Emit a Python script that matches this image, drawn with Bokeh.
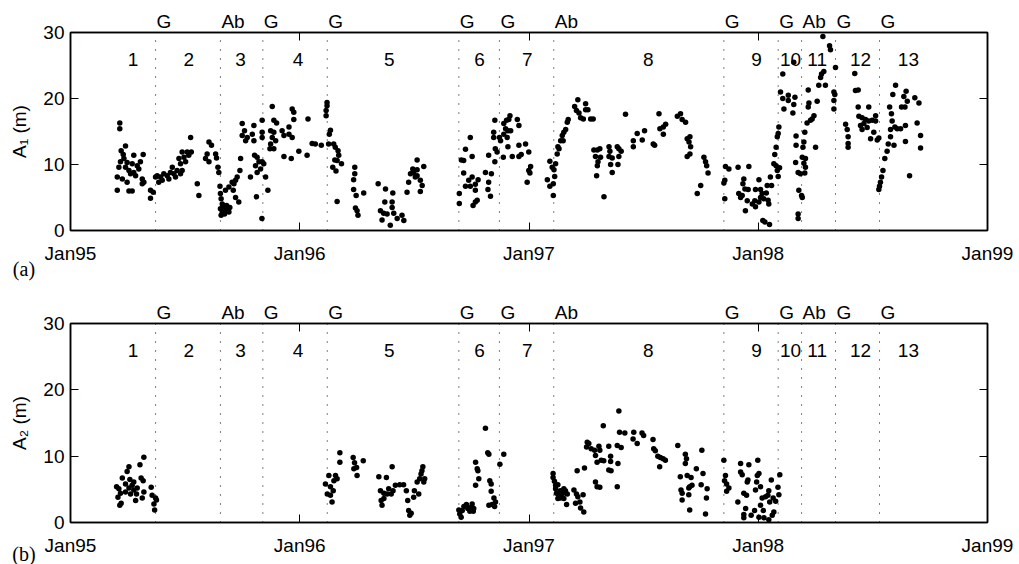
from bokeh.plotting import figure
from bokeh.layouts import column
from bokeh.models import (ColumnDataSource, Range1d, FixedTicker, LinearAxis,
                          LabelSet, Label)
from bokeh.core.properties import value
from bokeh.embed import file_html
from bokeh.resources import INLINE

# ---------------- data ----------------
year_ticks = [1995, 1996, 1997, 1998, 1999]
year_labels = ["Jan95", "Jan96", "Jan97", "Jan98", "Jan99"]
y_ticks = [0, 10, 20, 30]

boundaries = [1995.371, 1995.654, 1995.839, 1996.120, 1996.694, 1996.871,
              1997.108, 1997.850, 1998.087, 1998.189, 1998.337, 1998.529]
boundary_labels = ["G", "Ab", "G", "G", "G", "G", "Ab", "G", "G", "Ab", "G", "G"]

phase_names = ["1", "2", "3", "4", "5", "6", "7", "8", "9", "10", "11", "12", "13"]
phase_centers = [1995.273, 1995.516, 1995.742, 1995.992, 1996.391, 1996.784,
                 1996.992, 1997.520, 1997.992, 1998.141, 1998.257, 1998.446, 1998.655]

# Panel (a): A1 amplitude (m)
a1_time = [
    # phase 1
    1995.215, 1995.215, 1995.240, 1995.221, 1995.230, 1995.233, 1995.218, 1995.276, 1995.317, 1995.247,
    1995.211, 1995.240, 1995.269, 1995.291, 1995.305, 1995.255, 1995.276, 1995.298, 1995.204, 1995.226,
    1995.262, 1995.284, 1995.313, 1995.320, 1995.204, 1995.247, 1995.255, 1995.269, 1995.313,
    # phase 2
    1995.349, 1995.349, 1995.361, 1995.371, 1995.378, 1995.385, 1995.393, 1995.400, 1995.407, 1995.422,
    1995.429, 1995.436, 1995.444, 1995.451, 1995.458, 1995.465, 1995.473, 1995.480, 1995.480, 1995.487,
    1995.487, 1995.495, 1995.502, 1995.509, 1995.516, 1995.527, 1995.524, 1995.553, 1995.560,
    1995.604, 1995.615, 1995.596, 1995.589, 1995.604, 1995.633, 1995.637, 1995.643, 1995.647,
    # phase 3
    1995.652, 1995.654, 1995.657, 1995.662, 1995.654, 1995.662, 1995.669, 1995.676, 1995.684, 1995.691,
    1995.672, 1995.657, 1995.681, 1995.695, 1995.666, 1995.688, 1995.676, 1995.691, 1995.705, 1995.713,
    1995.720, 1995.727, 1995.710, 1995.720, 1995.734, 1995.739, 1995.742, 1995.749, 1995.749, 1995.759,
    1995.771, 1995.764, 1995.800, 1995.793, 1995.800, 1995.785, 1995.803, 1995.814, 1995.807, 1995.822,
    1995.814, 1995.829, 1995.836, 1995.843, 1995.851, 1995.811, 1995.861, 1995.836, 1995.836, 1995.836,
    1995.835,
    # phase 4
    1995.880, 1995.887, 1995.899, 1995.873, 1995.887, 1995.923, 1995.880, 1995.895, 1995.873, 1995.870,
    1995.887, 1995.931, 1995.953, 1995.967, 1995.974, 1995.974, 1995.967, 1995.953, 1995.931, 1995.963,
    1995.996, 1996.036, 1996.032, 1996.054, 1996.068, 1996.094,
    # phase 5
    1996.119, 1996.119, 1996.115, 1996.115, 1996.134, 1996.129, 1996.126, 1996.148, 1996.155, 1996.167,
    1996.170, 1996.153, 1996.163, 1996.182, 1996.144, 1996.158, 1996.163, 1996.240, 1996.240, 1996.235,
    1996.235, 1996.246, 1996.279, 1996.243, 1996.250, 1996.254, 1996.342, 1996.374, 1996.406, 1996.371,
    1996.403, 1996.352, 1996.366, 1996.381, 1996.403, 1996.410, 1996.359, 1996.395, 1996.425, 1996.446,
    1996.454, 1996.468, 1996.475, 1996.483, 1996.497, 1996.512, 1996.504, 1996.526, 1996.534, 1996.526,
    1996.512, 1996.541, 1996.512, 1996.493,
    # phase 6
    1996.696, 1996.696, 1996.705, 1996.715, 1996.723, 1996.744, 1996.752, 1996.715, 1996.737, 1996.752,
    1996.723, 1996.744, 1996.766, 1996.778, 1996.766, 1996.774, 1996.766, 1996.756, 1996.810, 1996.824,
    1996.836, 1996.824, 1996.821, 1996.832, 1996.851, 1996.846, 1996.846, 1996.853, 1996.861, 1996.851,
    # phase 7
    1996.871, 1996.890, 1996.890,
    1996.917, 1996.902, 1996.912, 1996.898, 1996.908, 1996.920, 1996.905, 1996.949, 1996.956, 1996.876,
    1996.908, 1996.956, 1996.985, 1996.999, 1996.888, 1996.927, 1996.956, 1996.966, 1997.007, 1996.999,
    1997.004, 1996.992,
    # phase 8
    1997.080, 1997.091, 1997.106, 1997.106, 1997.091, 1997.101, 1997.109, 1997.112, 1997.116, 1997.123,
    1997.131, 1997.126, 1997.138, 1997.145, 1997.152, 1997.160, 1997.167, 1997.171, 1997.149, 1997.199,
    1997.213, 1997.207, 1997.218, 1997.225, 1997.237, 1997.247, 1997.247, 1997.257, 1997.269, 1997.280,
    1997.283, 1997.298, 1997.309, 1997.290, 1997.312, 1997.301, 1997.298, 1997.295, 1997.327, 1997.349,
    1997.353, 1997.349, 1997.363, 1997.356, 1997.363, 1997.385, 1997.392, 1997.402, 1997.392, 1997.388,
    1997.421, 1997.455, 1997.455, 1997.472, 1997.494, 1997.504, 1997.542, 1997.548, 1997.567, 1997.571,
    1997.586, 1997.596, 1997.586, 1997.647, 1997.661, 1997.668, 1997.683, 1997.690, 1997.702, 1997.698,
    1997.705, 1997.702, 1997.690, 1997.734, 1997.749, 1997.763, 1997.770, 1997.775, 1997.781,
    # phase 9
    1997.857, 1997.872, 1997.912, 1997.959, 1997.854, 1997.850, 1997.854, 1997.937, 1997.933, 1997.942,
    1997.956, 1997.915, 1997.930, 1997.923, 1997.952, 1997.944, 1997.974, 1997.985, 1997.988, 1998.003,
    1998.010, 1998.017, 1998.010, 1998.003, 1998.024, 1998.035, 1998.043, 1998.046, 1998.039, 1998.053,
    1998.058, 1997.988, 1998.020, 1998.029, 1998.049, 1998.068, 1998.078, 1998.072, 1998.078, 1998.083,
    1998.087, 1998.090, 1998.083, 1998.087, 1998.093,
    # phase 10
    1998.107, 1998.097, 1998.107, 1998.112, 1998.131, 1998.131, 1998.160, 1998.155, 1998.151, 1998.165,
    1998.165, 1998.163, 1998.174, 1998.184, 1998.177, 1998.189, 1998.192, 1998.174, 1998.174, 1998.155,
    # phase 11
    1998.195, 1998.199, 1998.203, 1998.192, 1998.199, 1998.206, 1998.206, 1998.203, 1998.213, 1998.221,
    1998.218, 1998.228, 1998.235, 1998.218, 1998.243, 1998.257, 1998.250, 1998.264, 1998.276, 1998.272,
    1998.286, 1998.293, 1998.282, 1998.311, 1998.315, 1998.330, 1998.334, 1998.330, 1998.330, 1998.337,
    # phase 12
    1998.421, 1998.424, 1998.436, 1998.381, 1998.388, 1998.392, 1998.392, 1998.392, 1998.436, 1998.482,
    1998.439, 1998.453, 1998.468, 1998.461, 1998.446, 1998.482, 1998.497, 1998.512, 1998.512, 1998.475,
    1998.490, 1998.504, 1998.519, 1998.526, 1998.453,
    # phase 13
    1998.526, 1998.529, 1998.533, 1998.538, 1998.544, 1998.552, 1998.562, 1998.567, 1998.577, 1998.577,
    1998.584, 1998.581, 1998.573, 1998.587, 1998.599, 1998.606, 1998.596, 1998.621, 1998.625, 1998.635,
    1998.640, 1998.645, 1998.650, 1998.642, 1998.642, 1998.660, 1998.683, 1998.701, 1998.693, 1998.708,
    1998.708, 1998.592,
]
a1_value = [
    # phase 1
    16.3, 15.4, 12.8, 12.1, 11.5, 10.9, 10.4, 11.4, 11.5, 10.3,
    9.6, 9.6, 10.1, 9.8, 10.4, 9.1, 8.8, 9.3, 8.1, 7.8,
    8.6, 8.3, 7.8, 7.3, 6.1, 7.3, 6.0, 6.0, 7.1,
    # phase 2
    4.9, 6.1, 5.8, 8.1, 8.3, 7.3, 8.1, 7.6, 8.6, 8.3,
    7.8, 8.8, 9.6, 8.6, 8.1, 9.1, 10.9, 10.1, 8.6, 9.1,
    11.9, 11.1, 10.4, 11.9, 11.4, 11.9, 14.1, 7.1, 5.3,
    13.4, 12.9, 11.6, 10.9, 10.4, 11.6, 11.0, 9.6, 8.8,
    # phase 3
    6.7, 5.6, 4.8, 4.0, 3.3, 2.8, 3.0, 3.3, 3.0, 2.8,
    2.5, 2.3, 3.8, 3.5, 3.6, 3.2, 6.1, 6.6, 7.3, 7.1,
    7.6, 8.1, 6.1, 5.0, 4.3, 9.1, 10.9, 14.4, 16.2, 15.1,
    14.1, 13.6, 15.9, 14.6, 13.6, 8.1, 11.4, 11.1, 9.8, 10.4,
    8.8, 9.3, 10.4, 10.1, 8.1, 5.1, 6.1, 16.7, 14.9, 14.1,
    1.8,
    # phase 4
    18.8, 16.7, 16.3, 15.1, 14.9, 15.1, 14.1, 13.6, 13.1, 12.4,
    12.4, 14.4, 15.7, 18.4, 17.9, 16.8, 14.1, 14.6, 11.2, 10.9,
    12.0, 16.9, 11.4, 13.2, 13.1, 12.9,
    # phase 5
    19.4, 18.9, 18.2, 17.4, 15.2, 14.6, 13.1, 13.1, 12.6, 12.1,
    11.4, 10.7, 10.6, 10.1, 9.6, 9.0, 4.4, 9.6, 8.6, 7.7,
    6.2, 5.3, 5.7, 3.4, 3.0, 2.3, 7.1, 6.3, 5.7, 4.3,
    4.3, 3.0, 2.6, 2.5, 3.5, 2.6, 1.6, 0.8, 1.8, 2.3,
    1.5, 5.8, 7.3, 8.6, 8.8, 8.3, 8.1, 7.6, 6.8, 5.9,
    9.2, 9.7, 10.7, 9.3,
    # phase 6
    4.1, 5.6, 10.7, 10.6, 12.3, 14.1, 11.2, 8.7, 7.6, 8.1,
    6.7, 6.7, 7.0, 7.7, 6.1, 4.6, 4.3, 3.8, 8.8, 11.4,
    8.6, 7.3, 6.2, 5.2, 16.7, 14.9, 14.1, 12.4, 11.9, 10.4,
    # phase 7
    14.1, 14.6, 16.2,
    17.4, 16.7, 16.8, 15.4, 15.1, 15.1, 14.1, 16.8, 15.9, 13.6,
    12.7, 12.9, 13.1, 11.9, 11.1, 11.2, 11.2, 11.5, 9.7, 9.1,
    8.7, 7.3,
    # phase 8
    7.7, 6.7, 7.1, 5.3, 10.5, 9.6, 9.2, 8.2, 10.1, 11.6,
    12.4, 12.7, 13.6, 14.4, 14.9, 15.3, 16.4, 16.8, 13.6, 18.8,
    19.8, 18.2, 17.8, 17.1, 16.9, 19.2, 18.3, 18.3, 16.9, 16.9,
    12.2, 12.2, 12.4, 11.2, 11.1, 10.4, 9.8, 8.3, 5.1, 12.7,
    12.0, 11.2, 11.0, 10.0, 8.8, 12.7, 12.4, 12.0, 11.2, 10.0,
    17.6, 13.6, 12.7, 14.7, 13.7, 15.1, 13.1, 12.9, 17.7, 15.4,
    15.7, 16.1, 14.6, 17.3, 17.7, 16.8, 16.4, 13.9, 14.2, 13.4,
    12.7, 11.6, 11.2, 5.6, 6.8, 11.1, 10.4, 9.8, 8.7,
    # phase 9
    9.7, 9.3, 9.6, 9.7, 7.6, 7.2, 4.8, 7.8, 7.1, 6.3,
    6.2, 5.6, 5.3, 5.0, 4.5, 3.0, 4.0, 4.5, 6.2, 7.7,
    6.2, 5.6, 5.0, 4.3, 4.8, 5.7, 4.6, 4.0, 6.8, 8.1,
    6.8, 3.6, 1.5, 1.3, 0.9, 10.1, 9.8, 11.5, 12.6, 14.2,
    14.7, 15.7, 9.1, 8.2, 9.5,
    # phase 10
    23.7, 21.0, 20.0, 18.4, 20.5, 19.7, 20.2, 19.1, 17.8, 14.3,
    12.9, 10.3, 8.8, 8.6, 6.1, 5.3, 5.0, 2.5, 1.8, 25.5,
    # phase 11
    12.6, 13.4, 14.9, 11.1, 10.2, 9.6, 10.9, 8.7, 16.3, 19.3,
    18.7, 16.7, 16.9, 21.3, 17.4, 19.6, 12.6, 22.0, 23.7, 23.2,
    24.1, 22.0, 29.4, 28.0, 27.4, 21.0, 20.6, 19.7, 18.4, 24.7,
    # phase 12
    23.8, 21.2, 21.3, 16.1, 15.3, 14.2, 13.2, 12.6, 18.7, 18.7,
    17.3, 17.1, 16.8, 16.2, 15.9, 16.6, 16.7, 17.4, 16.6, 15.6,
    13.9, 14.9, 13.7, 14.0, 15.3,
    # phase 13
    6.2, 6.7, 7.3, 8.1, 9.1, 10.9, 12.0, 13.1, 14.2, 15.3,
    16.6, 17.7, 18.7, 20.6, 22.0, 15.4, 15.7, 15.4, 18.7, 20.3,
    18.7, 21.1, 19.6, 15.9, 13.5, 8.3, 20.1, 19.3, 16.3, 14.4,
    12.5, 12.9,
]

# Panel (b): A2 amplitude (m)
a2_time = [
    # phase 1
    1995.320, 1995.303, 1995.255, 1995.247, 1995.226, 1995.259, 1995.308, 1995.317, 1995.240, 1995.276,
    1995.201, 1995.211, 1995.255, 1995.276, 1995.291, 1995.352, 1995.218, 1995.262, 1995.288, 1995.313,
    1995.356, 1995.371, 1995.207, 1995.221, 1995.215, 1995.284, 1995.364, 1995.367, 1995.240, 1995.269,
    1995.320, 1995.375,
    # phase 5
    1996.175, 1996.175, 1996.127, 1996.156, 1996.149, 1996.112, 1996.134, 1996.146, 1996.120, 1996.134,
    1996.141, 1996.163,
    1996.233, 1996.239, 1996.248, 1996.236, 1996.250, 1996.277, 1996.345, 1996.378, 1996.403, 1996.352,
    1996.367, 1996.388, 1996.407, 1996.417, 1996.436, 1996.453, 1996.355, 1996.359, 1996.367, 1996.465,
    1996.471, 1996.475, 1996.480, 1996.486, 1996.497, 1996.500, 1996.512, 1996.519, 1996.523, 1996.529,
    1996.533, 1996.537, 1996.541, 1996.545, 1996.381, 1996.399,
    # phase 6 / 7
    1996.810, 1996.820, 1996.825, 1996.767, 1996.774, 1996.777, 1996.781, 1996.767, 1996.829, 1996.835,
    1996.835, 1996.890, 1996.873, 1996.847, 1996.854, 1996.839, 1996.825, 1996.850, 1996.694, 1996.698,
    1996.704, 1996.716, 1996.727, 1996.733, 1996.748, 1996.752, 1996.757, 1996.742, 1996.759, 1996.709,
    # phase 8
    1997.105, 1997.105, 1997.111, 1997.126, 1997.116, 1997.120, 1997.130, 1997.126, 1997.137, 1997.145,
    1997.152, 1997.159, 1997.137, 1997.152, 1997.164, 1997.167, 1997.116, 1997.196, 1997.207, 1997.213,
    1997.236, 1997.203, 1997.222, 1997.225, 1997.239, 1997.210, 1997.242, 1997.254, 1997.261, 1997.251,
    1997.271, 1997.286, 1997.290, 1997.297, 1997.305, 1997.309, 1997.315, 1997.326, 1997.324, 1997.348,
    1997.356, 1997.356, 1997.348, 1997.358, 1997.392, 1997.385, 1997.402, 1997.388, 1997.385, 1997.290,
    1997.297, 1997.309, 1997.395, 1997.418, 1997.457, 1997.454, 1997.472,
    1997.493, 1997.500, 1997.541, 1997.544, 1997.551, 1997.562, 1997.573, 1997.585, 1997.595, 1997.570,
    1997.649, 1997.682, 1997.687, 1997.682, 1997.660, 1997.690, 1997.707, 1997.730, 1997.701, 1997.711,
    1997.697, 1997.663, 1997.668, 1997.697, 1997.668, 1997.701, 1997.754, 1997.759, 1997.751, 1997.777,
    1997.774, 1997.770,
    # phase 9
    1997.850, 1997.857, 1997.853, 1997.862, 1997.872, 1997.862, 1997.923, 1997.959, 1997.998, 1997.923,
    1997.930, 1998.003, 1997.996, 1997.955, 1997.952, 1998.057, 1998.094, 1997.993, 1998.010, 1997.988,
    1997.937, 1997.949, 1998.046, 1998.042, 1998.086, 1998.090, 1998.017, 1998.032, 1998.065, 1998.076,
    1998.050, 1997.911, 1998.010, 1997.945, 1997.984, 1998.022, 1997.937, 1997.937, 1997.969, 1998.025,
    1998.061, 1998.068, 1998.046, 1998.003,
]
a2_value = [
    # phase 1
    9.85, 8.7, 8.4, 7.7, 6.7, 6.5, 6.7, 6.3, 5.8, 6.1,
    5.4, 5.1, 5.2, 4.9, 5.2, 5.3, 4.4, 4.3, 4.3, 3.7,
    4.1, 3.7, 3.8, 2.9, 2.6, 3.3, 2.8, 1.9, 4.6, 5.6,
    4.6, 3.4,
    # phase 5
    10.5, 9.1, 7.1, 7.1, 6.3, 5.8, 5.4, 4.8, 4.3, 4.1,
    3.1, 6.6,
    9.8, 9.0, 8.3, 8.1, 7.1, 9.3, 6.9, 6.8, 8.4, 4.8,
    4.4, 5.1, 4.8, 5.6, 5.7, 5.7, 3.3, 2.6, 3.6, 4.8,
    3.3, 1.8, 1.1, 1.4, 3.8, 4.8, 6.1, 4.3, 6.6, 7.3,
    7.8, 8.4, 6.1, 6.6, 4.3, 4.3,
    # phase 6 / 7
    14.2, 10.5, 10.3, 9.1, 8.1, 7.8, 6.6, 5.6, 6.3, 5.8,
    4.7, 10.3, 8.8, 3.7, 3.1, 2.7, 2.6, 2.4, 1.9, 1.3,
    0.8, 2.4, 2.7, 2.1, 2.3, 2.8, 1.7, 1.7, 2.1, 1.8,
    # phase 8
    7.4, 6.8, 6.2, 5.7, 5.1, 4.4, 4.1, 3.6, 4.8, 4.3,
    5.1, 4.8, 3.7, 3.6, 2.7, 4.3, 5.6, 4.9, 4.3, 3.9,
    4.2, 2.9, 3.1, 2.2, 1.6, 7.8, 8.2, 12.1, 11.9, 11.4,
    11.1, 10.9, 10.1, 9.1, 11.5, 10.9, 9.4, 9.3, 14.6, 11.5,
    10.0, 9.2, 7.9, 7.8, 16.8, 11.6, 11.3, 8.9, 5.4, 6.1,
    5.4, 5.3, 13.6, 13.5, 13.6, 12.6, 11.9,
    13.5, 13.1, 12.5, 11.1, 10.8, 10.0, 9.8, 9.6, 9.4, 8.4,
    11.6, 10.3, 9.6, 8.9, 6.9, 7.1, 6.8, 8.1, 5.4, 5.6,
    5.2, 4.9, 4.4, 4.2, 3.4, 1.9, 10.9, 7.4, 5.7, 5.1,
    3.7, 1.3,
    # phase 9
    9.4, 7.1, 6.3, 5.8, 5.2, 4.7, 8.9, 8.7, 9.4, 7.6,
    7.2, 7.4, 7.1, 6.4, 6.1, 6.4, 7.2, 6.1, 5.4, 4.9,
    4.4, 4.1, 4.8, 4.1, 5.3, 4.2, 3.7, 3.9, 3.7, 3.2,
    3.1, 3.1, 2.6, 2.1, 1.8, 1.8, 1.2, 0.7, 1.1, 0.7,
    1.1, 1.6, 0.4, 0.8,
]

# ---------------- plotting ----------------
FONT = "Liberation Sans"
FS = "19px"
FRAME_W = 917                       # px, frame width
PX_PER_YEAR = FRAME_W / 4.0
LABEL_SHIFT_PX = {"G": 8.4, "Ab": 12.6}   # half label width + gap, so label starts at line


def make_panel(times, values, ylabel, tag, height, top, bottom, tag_y):
    p = figure(width=1019, height=height, output_backend="svg", toolbar_location=None,
               x_range=Range1d(1995, 1999), y_range=Range1d(0, 30),
               min_border_left=70, min_border_right=32,
               min_border_top=top, min_border_bottom=bottom)
    p.background_fill_color = "white"
    p.border_fill_color = "white"
    p.outline_line_color = "black"
    p.outline_line_width = 1.5
    p.xgrid.visible = False
    p.ygrid.visible = False

    xa = p.xaxis[0]
    xa.ticker = FixedTicker(ticks=year_ticks)
    xa.major_label_overrides = {t: l for t, l in zip(year_ticks, year_labels)}
    xa.major_label_standoff = 12
    ya = p.yaxis[0]
    ya.ticker = FixedTicker(ticks=y_ticks)
    ya.axis_label = ylabel
    ya.axis_label_text_font = FONT
    ya.axis_label_text_font_size = FS
    ya.axis_label_text_font_style = "normal"
    ya.axis_label_text_color = "black"
    ya.axis_label_standoff = 10
    ya.major_label_standoff = 6

    # top axis: event labels (G / Ab) at the phase boundaries + inward year ticks
    pos = [round(b + LABEL_SHIFT_PX[l] / PX_PER_YEAR, 5) for b, l in zip(boundaries, boundary_labels)]
    top_ax = LinearAxis(ticker=FixedTicker(ticks=pos, minor_ticks=year_ticks),
                        major_label_overrides={q: l for q, l in zip(pos, boundary_labels)},
                        major_label_standoff=1)
    top_ax.major_tick_line_color = None
    top_ax.major_tick_in = 0
    top_ax.major_tick_out = 0
    top_ax.minor_tick_in = 8
    top_ax.minor_tick_out = 0
    top_ax.minor_tick_line_color = "black"
    top_ax.minor_tick_line_width = 1
    top_ax.major_label_text_font = FONT
    top_ax.major_label_text_font_size = FS
    top_ax.major_label_text_color = "black"
    top_ax.axis_line_color = "black"
    top_ax.axis_line_width = 1.5
    p.add_layout(top_ax, "above")

    right_ax = LinearAxis(ticker=FixedTicker(ticks=[], minor_ticks=y_ticks), major_label_standoff=0)
    right_ax.major_tick_in = 0
    right_ax.major_tick_out = 0
    right_ax.minor_tick_in = 8
    right_ax.minor_tick_out = 0
    right_ax.minor_tick_line_color = "black"
    right_ax.minor_tick_line_width = 1
    right_ax.axis_line_color = "black"
    right_ax.axis_line_width = 1.5
    p.add_layout(right_ax, "right")

    for ax in (xa, ya):
        ax.axis_line_color = "black"
        ax.axis_line_width = 1.5
        ax.major_tick_in = 8
        ax.major_tick_out = 0
        ax.major_tick_line_color = "black"
        ax.major_tick_line_width = 1
        ax.minor_tick_line_color = None
        ax.major_label_text_font = FONT
        ax.major_label_text_font_size = FS
        ax.major_label_text_color = "black"

    # phase boundaries (dotted)
    bsrc = ColumnDataSource(dict(x=boundaries, y0=[0] * len(boundaries), y1=[30] * len(boundaries)))
    p.segment(x0="x", y0="y0", x1="x", y1="y1", source=bsrc, line_color="black",
              line_width=1, line_dash="1 8")

    # phase numbers
    nsrc = ColumnDataSource(dict(x=phase_centers, y=[24.9] * len(phase_centers), lab=phase_names))
    p.add_layout(LabelSet(x="x", y="y", text="lab", source=nsrc, text_align="center",
                          text_baseline="alphabetic", text_font=value(FONT),
                          text_font_size=value(FS), text_color="black"))

    # data dots
    p.scatter(x=times, y=values, size=5.5, color="black", line_color=None)

    # panel tag, placed in a side panel so it is not clipped by the frame
    p.add_layout(Label(x=1994.797, y=tag_y, text=tag, text_font="Liberation Serif",
                       text_font_size="20px", text_align="center", text_baseline="middle",
                       text_color="black"), "right")
    return p


pa = make_panel(a1_time, a1_value, "A\u2081 (m)", "(a)", 282, 32, 52, -5.9)
pb = make_panel(a2_time, a2_value, "A\u2082 (m)", "(b)", 282, 41, 42, -4.82)

layout = column(pa, pb, spacing=0)
open("out.html", "w").write(file_html(layout, INLINE))
